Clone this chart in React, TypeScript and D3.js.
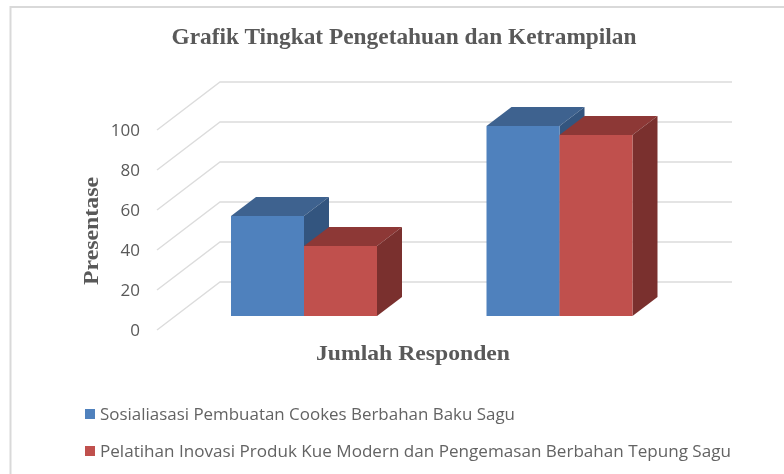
import React from "react";
import * as d3 from "d3";

const categories = ["A", "B"];
const seriesNames = [
  "Sosialiasasi Pembuatan Cookes Berbahan Baku Sagu",
  "Pelatihan Inovasi Produk Kue Modern dan Pengemasan Berbahan Tepung Sagu",
];
const seriesA = [50, 95];
const seriesB = [35, 90.5];
const ticks = [0, 20, 40, 60, 80, 100];
const palette = [
  { front: "#4f81bd", top: "#3e628f", side: "#33557f" },
  { front: "#c0504d", top: "#8d3836", side: "#7a302e" },
];

const W = 784, H = 474;
const y = d3.scaleLinear().domain([0, 100]).range([330, 130]);
const x0 = d3.scaleBand<string>().domain(categories).range([176.25, 687.25]);
const gridRight = 732;
const wallDx = 63, wallDy = -48;
const barDx = 25, barDy = -19;
const barBase = 316;
const barW = x0.bandwidth() * 0.2857;
const sans = "'Open Sans', sans-serif";
const serif = "'Liberation Serif', serif";

function Bar({ left, value, c }: { left: number; value: number; c: typeof palette[0] }) {
  const h = y(0) - y(value);
  const top = barBase - h;
  const r = left + barW;
  const pts = (a: number[][]) => a.map((p) => p.join(",")).join(" ");
  return (
    <g>
      <polygon points={pts([[left, top], [r, top], [r + barDx, top + barDy], [left + barDx, top + barDy]])} fill={c.top} />
      <polygon points={pts([[r, top], [r + barDx, top + barDy], [r + barDx, barBase + barDy], [r, barBase]])} fill={c.side} />
      <rect x={left} y={top} width={barW} height={h} fill={c.front} />
    </g>
  );
}

export default function App() {
  return (
    <svg width={W} height={H} style={{ position: "absolute", left: 0, top: 0, background: "#fff", filter: "blur(0.35px)" }}>
      <path d={`M784,7H10.5V474`} fill="none" stroke="#d9d9d9" strokeWidth={2} />
      <text x={404} y={44} textAnchor="middle" fontFamily={serif} fontWeight={700} fontSize={23} fill="#595959" textLength={465} lengthAdjust="spacingAndGlyphs">
        Grafik Tingkat Pengetahuan dan Ketrampilan
      </text>
      {ticks.map((t) => {
        const yy = y(t);
        return (
          <g key={t}>
            <path d={`M157,${yy}L${157 + wallDx},${yy + wallDy}H${gridRight}`} fill="none" stroke="#dcdcdc" strokeWidth={1.4} />
            <text x={140} y={yy + 5.5} textAnchor="end" fontFamily={sans} fontSize={17} fill="#595959">{t}</text>
          </g>
        );
      })}
      {categories.map((cat, i) => {
        const center = (x0(cat) as number) + x0.bandwidth() / 2;
        return (
          <g key={cat}>
            <Bar left={center - barW} value={seriesA[i]} c={palette[0]} />
            <Bar left={center} value={seriesB[i]} c={palette[1]} />
          </g>
        );
      })}
      <text transform="translate(98,231) rotate(-90)" textAnchor="middle" fontFamily={serif} fontWeight={700} fontSize={21} fill="#595959" textLength={108} lengthAdjust="spacingAndGlyphs">Presentase</text>
      <text x={413} y={360} textAnchor="middle" fontFamily={serif} fontWeight={700} fontSize={22} fill="#595959" textLength={194} lengthAdjust="spacingAndGlyphs">Jumlah Responden</text>
      {seriesNames.map((name, i) => (
        <g key={name}>
          <rect x={85} y={409 + i * 37} width={10} height={10} fill={palette[i].front} />
          <text x={100} y={420 + i * 37} fontFamily={sans} fontSize={15.5} fill="#636363" textLength={i === 0 ? 415 : 631} lengthAdjust="spacingAndGlyphs">{name}</text>
        </g>
      ))}
    </svg>
  );
}
